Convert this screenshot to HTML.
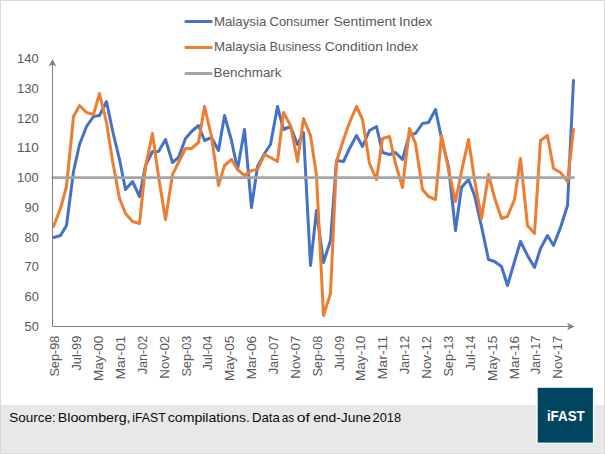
<!DOCTYPE html>
<html><head><meta charset="utf-8"><style>
html,body{margin:0;padding:0;background:#fff;}
svg{display:block;}
text{font-family:"Liberation Sans",Arial,sans-serif;}
</style></head><body>
<svg width="605" height="454" viewBox="0 0 605 454">
<rect x="0" y="0" width="605" height="454" fill="#ffffff"/>
<rect x="0.5" y="0.5" width="604" height="453" fill="none" stroke="#d9d9d9" stroke-width="1"/>
<rect x="1" y="405" width="603" height="48" fill="#e8e8e8"/>
<!-- legend -->
<g stroke-width="3" stroke-linecap="round">
<line x1="185.9" y1="21.5" x2="211.2" y2="21.5" stroke="#4472c4"/>
<line x1="185.9" y1="47.6" x2="211.2" y2="47.6" stroke="#ed7d31"/>
<line x1="185.9" y1="73.5" x2="211.2" y2="73.5" stroke="#a5a5a5"/>
</g>
<g font-size="13.3" fill="#595959">
<text x="213.9" y="26.1" textLength="52.38" lengthAdjust="spacingAndGlyphs">Malaysia</text>
<text x="269.62" y="26.1" textLength="59.42" lengthAdjust="spacingAndGlyphs">Consumer</text>
<text x="333.57" y="26.1" textLength="62.41" lengthAdjust="spacingAndGlyphs">Sentiment</text>
<text x="399.07" y="26.1" textLength="33.27" lengthAdjust="spacingAndGlyphs">Index</text>
<text x="213.9" y="51.1" textLength="52.28" lengthAdjust="spacingAndGlyphs">Malaysia</text>
<text x="269.55" y="51.1" textLength="51.7" lengthAdjust="spacingAndGlyphs">Business</text>
<text x="324.78" y="51.1" textLength="58.15" lengthAdjust="spacingAndGlyphs">Condition</text>
<text x="385.7" y="51.1" textLength="32.43" lengthAdjust="spacingAndGlyphs">Index</text>
<text x="213.59" y="77.0" textLength="67.98" lengthAdjust="spacingAndGlyphs">Benchmark</text>
</g>
<text x="38.8" y="330.7" text-anchor="end" font-size="12.8" fill="#595959" textLength="14.3" lengthAdjust="spacingAndGlyphs">50</text>
<text x="38.8" y="301.0" text-anchor="end" font-size="12.8" fill="#595959" textLength="14.3" lengthAdjust="spacingAndGlyphs">60</text>
<text x="38.8" y="271.2" text-anchor="end" font-size="12.8" fill="#595959" textLength="14.3" lengthAdjust="spacingAndGlyphs">70</text>
<text x="38.8" y="241.5" text-anchor="end" font-size="12.8" fill="#595959" textLength="14.3" lengthAdjust="spacingAndGlyphs">80</text>
<text x="38.8" y="211.8" text-anchor="end" font-size="12.8" fill="#595959" textLength="14.3" lengthAdjust="spacingAndGlyphs">90</text>
<text x="38.8" y="182.1" text-anchor="end" font-size="12.8" fill="#595959" textLength="21.7" lengthAdjust="spacingAndGlyphs">100</text>
<text x="38.8" y="152.3" text-anchor="end" font-size="12.8" fill="#595959" textLength="21.7" lengthAdjust="spacingAndGlyphs">110</text>
<text x="38.8" y="122.6" text-anchor="end" font-size="12.8" fill="#595959" textLength="21.7" lengthAdjust="spacingAndGlyphs">120</text>
<text x="38.8" y="92.9" text-anchor="end" font-size="12.8" fill="#595959" textLength="21.7" lengthAdjust="spacingAndGlyphs">130</text>
<text x="38.8" y="63.1" text-anchor="end" font-size="12.8" fill="#595959" textLength="21.7" lengthAdjust="spacingAndGlyphs">140</text>
<text transform="translate(59.30,335.7) rotate(-90)" x="0" y="0" text-anchor="end" font-size="12.8" fill="#595959" textLength="40.9" lengthAdjust="spacingAndGlyphs">Sep-98</text>
<text transform="translate(81.17,335.7) rotate(-90)" x="0" y="0" text-anchor="end" font-size="12.8" fill="#595959" textLength="34.9" lengthAdjust="spacingAndGlyphs">Jul-99</text>
<text transform="translate(103.04,335.7) rotate(-90)" x="0" y="0" text-anchor="end" font-size="12.8" fill="#595959" textLength="45.4" lengthAdjust="spacingAndGlyphs">May-00</text>
<text transform="translate(124.91,335.7) rotate(-90)" x="0" y="0" text-anchor="end" font-size="12.8" fill="#595959" textLength="43.8" lengthAdjust="spacingAndGlyphs">Mar-01</text>
<text transform="translate(146.78,335.7) rotate(-90)" x="0" y="0" text-anchor="end" font-size="12.8" fill="#595959" textLength="38.6" lengthAdjust="spacingAndGlyphs">Jan-02</text>
<text transform="translate(168.65,335.7) rotate(-90)" x="0" y="0" text-anchor="end" font-size="12.8" fill="#595959" textLength="43.0" lengthAdjust="spacingAndGlyphs">Nov-02</text>
<text transform="translate(190.52,335.7) rotate(-90)" x="0" y="0" text-anchor="end" font-size="12.8" fill="#595959" textLength="40.9" lengthAdjust="spacingAndGlyphs">Sep-03</text>
<text transform="translate(212.39,335.7) rotate(-90)" x="0" y="0" text-anchor="end" font-size="12.8" fill="#595959" textLength="34.9" lengthAdjust="spacingAndGlyphs">Jul-04</text>
<text transform="translate(234.26,335.7) rotate(-90)" x="0" y="0" text-anchor="end" font-size="12.8" fill="#595959" textLength="45.4" lengthAdjust="spacingAndGlyphs">May-05</text>
<text transform="translate(256.13,335.7) rotate(-90)" x="0" y="0" text-anchor="end" font-size="12.8" fill="#595959" textLength="43.8" lengthAdjust="spacingAndGlyphs">Mar-06</text>
<text transform="translate(278.00,335.7) rotate(-90)" x="0" y="0" text-anchor="end" font-size="12.8" fill="#595959" textLength="38.6" lengthAdjust="spacingAndGlyphs">Jan-07</text>
<text transform="translate(299.87,335.7) rotate(-90)" x="0" y="0" text-anchor="end" font-size="12.8" fill="#595959" textLength="43.0" lengthAdjust="spacingAndGlyphs">Nov-07</text>
<text transform="translate(321.74,335.7) rotate(-90)" x="0" y="0" text-anchor="end" font-size="12.8" fill="#595959" textLength="40.9" lengthAdjust="spacingAndGlyphs">Sep-08</text>
<text transform="translate(343.61,335.7) rotate(-90)" x="0" y="0" text-anchor="end" font-size="12.8" fill="#595959" textLength="34.9" lengthAdjust="spacingAndGlyphs">Jul-09</text>
<text transform="translate(365.48,335.7) rotate(-90)" x="0" y="0" text-anchor="end" font-size="12.8" fill="#595959" textLength="45.4" lengthAdjust="spacingAndGlyphs">May-10</text>
<text transform="translate(387.35,335.7) rotate(-90)" x="0" y="0" text-anchor="end" font-size="12.8" fill="#595959" textLength="43.8" lengthAdjust="spacingAndGlyphs">Mar-11</text>
<text transform="translate(409.22,335.7) rotate(-90)" x="0" y="0" text-anchor="end" font-size="12.8" fill="#595959" textLength="38.6" lengthAdjust="spacingAndGlyphs">Jan-12</text>
<text transform="translate(431.09,335.7) rotate(-90)" x="0" y="0" text-anchor="end" font-size="12.8" fill="#595959" textLength="43.0" lengthAdjust="spacingAndGlyphs">Nov-12</text>
<text transform="translate(452.96,335.7) rotate(-90)" x="0" y="0" text-anchor="end" font-size="12.8" fill="#595959" textLength="40.9" lengthAdjust="spacingAndGlyphs">Sep-13</text>
<text transform="translate(474.83,335.7) rotate(-90)" x="0" y="0" text-anchor="end" font-size="12.8" fill="#595959" textLength="34.9" lengthAdjust="spacingAndGlyphs">Jul-14</text>
<text transform="translate(496.70,335.7) rotate(-90)" x="0" y="0" text-anchor="end" font-size="12.8" fill="#595959" textLength="45.4" lengthAdjust="spacingAndGlyphs">May-15</text>
<text transform="translate(518.57,335.7) rotate(-90)" x="0" y="0" text-anchor="end" font-size="12.8" fill="#595959" textLength="43.8" lengthAdjust="spacingAndGlyphs">Mar-16</text>
<text transform="translate(540.44,335.7) rotate(-90)" x="0" y="0" text-anchor="end" font-size="12.8" fill="#595959" textLength="38.6" lengthAdjust="spacingAndGlyphs">Jan-17</text>
<text transform="translate(562.31,335.7) rotate(-90)" x="0" y="0" text-anchor="end" font-size="12.8" fill="#595959" textLength="43.0" lengthAdjust="spacingAndGlyphs">Nov-17</text>
<!-- series -->
<polyline points="53.5,237.5 60.5,235.5 66.5,225.5 73.5,171.5 79.5,144.5 86.5,126.5 93.5,116.5 99.5,115.5 106.5,101.5 112.5,130.5 119.5,159.5 125.5,189.5 132.5,181.5 139.5,196.5 145.5,165.5 152.5,151.5 158.5,151.5 165.5,139.5 172.5,162.5 178.5,157.5 185.5,138.5 191.5,131.5 198.5,125.5 204.5,140.5 211.5,137.5 218.5,150.5 224.5,115.5 231.5,140.5 237.5,169.5 244.5,129.5 251.5,207.5 257.5,166.5 264.5,153.5 270.5,144.5 277.5,106.5 283.5,129.5 290.5,126.5 297.5,144.5 303.5,132.5 310.5,265.5 316.5,210.5 323.5,262.5 330.5,240.5 336.5,160.5 343.5,161.5 349.5,148.5 356.5,135.5 362.5,146.5 369.5,130.5 376.5,126.5 382.5,152.5 389.5,154.5 395.5,152.5 402.5,159.5 409.5,134.5 415.5,133.5 422.5,123.5 428.5,122.5 435.5,109.5 441.5,138.5 448.5,166.5 455.5,230.5 461.5,187.5 468.5,179.5 474.5,195.5 481.5,226.5 488.5,259.5 494.5,261.5 501.5,266.5 507.5,285.5 514.5,261.5 520.5,241.5 527.5,255.5 534.5,267.5 540.5,248.5 547.5,235.5 553.5,245.5 560.5,227.5 567.5,205.5 573.5,80.5" fill="none" stroke="#4472c4" stroke-width="3" stroke-linejoin="round" stroke-linecap="round"/>
<polyline points="53.5,226.5 60.5,208.5 66.5,186.5 73.5,116.5 79.5,105.5 86.5,112.5 93.5,114.5 99.5,93.5 106.5,122.5 112.5,160.5 119.5,198.5 125.5,213.5 132.5,221.5 139.5,223.5 145.5,166.5 152.5,133.5 158.5,176.5 165.5,219.5 172.5,174.5 178.5,162.5 185.5,148.5 191.5,148.5 198.5,142.5 204.5,106.5 211.5,136.5 218.5,185.5 224.5,165.5 231.5,159.5 237.5,169.5 244.5,175.5 251.5,170.5 257.5,169.5 264.5,154.5 270.5,157.5 277.5,161.5 283.5,112.5 290.5,125.5 297.5,161.5 303.5,118.5 310.5,135.5 316.5,175.5 323.5,315.5 330.5,293.5 336.5,161.5 343.5,139.5 349.5,122.5 356.5,106.5 362.5,119.5 369.5,163.5 376.5,179.5 382.5,138.5 389.5,136.5 395.5,163.5 402.5,187.5 409.5,128.5 415.5,143.5 422.5,189.5 428.5,196.5 435.5,199.5 441.5,135.5 448.5,169.5 455.5,201.5 461.5,171.5 468.5,139.5 474.5,179.5 481.5,218.5 488.5,174.5 494.5,197.5 501.5,218.5 507.5,216.5 514.5,199.5 520.5,158.5 527.5,225.5 534.5,233.5 540.5,140.5 547.5,135.5 553.5,168.5 560.5,172.5 567.5,181.5 573.5,129.5" fill="none" stroke="#ed7d31" stroke-width="3" stroke-linejoin="round" stroke-linecap="round"/>
<!-- benchmark -->
<line x1="52.9" y1="177.6" x2="573.4" y2="177.6" stroke="#a5a5a5" stroke-width="2.9" stroke-linecap="round"/>
<!-- axes -->
<g stroke="#7f7f7f" stroke-width="1" fill="none">
<line x1="52.5" y1="326.5" x2="52.5" y2="60"/>
<line x1="52.5" y1="326.5" x2="573" y2="326.5"/>
</g>
<path d="M52.5 59 L56.3 66.5 L52.5 64.5 L48.7 66.5 Z" fill="#7f7f7f"/>
<path d="M574.5 326.5 L567.0 322.7 L569.0 326.5 L567.0 330.3 Z" fill="#7f7f7f"/>
<!-- footer -->
<g font-size="13.2" fill="#0a0a0a">
<text x="9.39" y="421.8" textLength="46.43" lengthAdjust="spacingAndGlyphs">Source:</text>
<text x="57.81" y="421.8" textLength="72.78" lengthAdjust="spacingAndGlyphs">Bloomberg,</text>
<text x="132.26" y="421.8" textLength="33.45" lengthAdjust="spacingAndGlyphs">iFAST</text>
<text x="167.76" y="421.8" textLength="82.26" lengthAdjust="spacingAndGlyphs">compilations.</text>
<text x="251.9" y="421.8" textLength="27.88" lengthAdjust="spacingAndGlyphs">Data</text>
<text x="281.67" y="421.8" textLength="12.43" lengthAdjust="spacingAndGlyphs">as</text>
<text x="296.78" y="421.8" textLength="13.13" lengthAdjust="spacingAndGlyphs">of</text>
<text x="313.17" y="421.8" textLength="57.7" lengthAdjust="spacingAndGlyphs">end-June</text>
<text x="372.62" y="421.8" textLength="28.53" lengthAdjust="spacingAndGlyphs">2018</text>
</g>
<rect x="536.5" y="386.6" width="57.6" height="57.2" fill="#ffffff"/>
<rect x="537.7" y="387.8" width="55.2" height="54.8" fill="#00455f"/>
<text x="546.9" y="420.6" font-size="15" font-weight="bold" fill="#ffffff" textLength="37.9" lengthAdjust="spacingAndGlyphs">iFAST</text>
</svg>
</body></html>
